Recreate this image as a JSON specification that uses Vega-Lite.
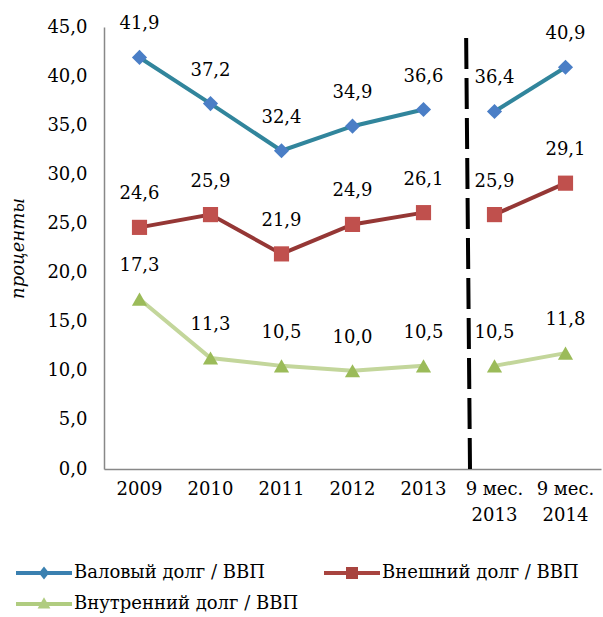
{
  "$schema": "https://vega.github.io/schema/vega-lite/v6.json",
  "width": 497,
  "height": 442,
  "autosize": {"type": "none"},
  "padding": {"left": 104, "top": 27, "right": 2, "bottom": 148},
  "config": {
    "view": {"stroke": null},
    "font": "DejaVu Serif",
    "locale": {"number": {"decimal": ",", "thousands": " ", "grouping": [3], "currency": ["", ""]}},
    "axis": {"grid": false, "ticks": false, "domainColor": "#888888", "domainWidth": 1.5, "labelFont": "DejaVu Serif", "labelFontSize": 18, "labelColor": "#000000", "titleFont": "DejaVu Serif", "titleFontSize": 18, "titleColor": "#000000", "titleFontWeight": "normal"}
  },
  "data": {
    "values": [
      {"period": "2009", "series": "Валовый долг / ВВП", "seg": "a", "value": 41.9},
      {"period": "2010", "series": "Валовый долг / ВВП", "seg": "a", "value": 37.2},
      {"period": "2011", "series": "Валовый долг / ВВП", "seg": "a", "value": 32.4},
      {"period": "2012", "series": "Валовый долг / ВВП", "seg": "a", "value": 34.9},
      {"period": "2013", "series": "Валовый долг / ВВП", "seg": "a", "value": 36.6},
      {"period": "9 мес. 2013", "series": "Валовый долг / ВВП", "seg": "b", "value": 36.4},
      {"period": "9 мес. 2014", "series": "Валовый долг / ВВП", "seg": "b", "value": 40.9},
      {"period": "2009", "series": "Внешний долг / ВВП", "seg": "a", "value": 24.6},
      {"period": "2010", "series": "Внешний долг / ВВП", "seg": "a", "value": 25.9},
      {"period": "2011", "series": "Внешний долг / ВВП", "seg": "a", "value": 21.9},
      {"period": "2012", "series": "Внешний долг / ВВП", "seg": "a", "value": 24.9},
      {"period": "2013", "series": "Внешний долг / ВВП", "seg": "a", "value": 26.1},
      {"period": "9 мес. 2013", "series": "Внешний долг / ВВП", "seg": "b", "value": 25.9},
      {"period": "9 мес. 2014", "series": "Внешний долг / ВВП", "seg": "b", "value": 29.1},
      {"period": "2009", "series": "Внутренний долг / ВВП", "seg": "a", "value": 17.3},
      {"period": "2010", "series": "Внутренний долг / ВВП", "seg": "a", "value": 11.3},
      {"period": "2011", "series": "Внутренний долг / ВВП", "seg": "a", "value": 10.5},
      {"period": "2012", "series": "Внутренний долг / ВВП", "seg": "a", "value": 10.0},
      {"period": "2013", "series": "Внутренний долг / ВВП", "seg": "a", "value": 10.5},
      {"period": "9 мес. 2013", "series": "Внутренний долг / ВВП", "seg": "b", "value": 10.5},
      {"period": "9 мес. 2014", "series": "Внутренний долг / ВВП", "seg": "b", "value": 11.8}
    ]
  },
  "encoding": {
    "x": {
      "field": "period", "type": "ordinal", "sort": null,
      "scale": {"type": "band", "paddingInner": 0, "paddingOuter": 0},
      "axis": {"title": null, "labelAngle": 0, "labelPadding": 11, "labelLineHeight": 26,
        "labelExpr": "indexof(datum.label, 'мес') > 0 ? [slice(datum.label, 0, 6), slice(datum.label, 7)] : datum.label"}
    },
    "y": {
      "field": "value", "type": "quantitative",
      "scale": {"domain": [0, 45], "nice": false},
      "axis": {"values": [0, 5, 10, 15, 20, 25, 30, 35, 40, 45], "format": ".1f", "labelPadding": 17, "title": "проценты", "titleFontStyle": "italic", "titlePadding": 19}
    }
  },
  "layer": [
    {
      "mark": {"type": "line", "strokeWidth": 4},
      "encoding": {
        "color": {"field": "series", "type": "nominal", "legend": null,
          "scale": {"domain": ["Валовый долг / ВВП", "Внешний долг / ВВП", "Внутренний долг / ВВП"], "range": ["#31859C", "#953735", "#C3D69B"]}},
        "detail": {"field": "seg"}
      }
    },
    {
      "transform": [{"filter": "datum.period == '9 мес. 2013' && datum.series == 'Валовый долг / ВВП'"}],
      "mark": {"type": "rule", "color": "#000000", "strokeWidth": 4, "strokeDash": [31, 9]},
      "encoding": {
        "x": {"field": "period", "type": "ordinal", "sort": null, "bandPosition": 0.155},
        "x2": {"field": "period", "bandPosition": 0.1},
        "y": {"datum": 0},
        "y2": {"datum": 44.5}
      }
    },
    {
      "mark": {"type": "point", "filled": true, "opacity": 1, "size": 230},
      "encoding": {
        "color": {"field": "series", "type": "nominal", "legend": null,
          "scale": {"domain": ["Валовый долг / ВВП", "Внешний долг / ВВП", "Внутренний долг / ВВП"], "range": ["#4A7EC6", "#C0504D", "#9BBB59"]}},
        "shape": {"field": "series", "type": "nominal", "legend": null,
          "scale": {"domain": ["Валовый долг / ВВП", "Внешний долг / ВВП", "Внутренний долг / ВВП"], "range": ["diamond", "square", "triangle-up"]}}
      }
    },
    {
      "mark": {"type": "text", "dy": -33, "fontSize": 18, "font": "DejaVu Serif", "color": "#000000"},
      "encoding": {
        "text": {"field": "value", "type": "quantitative", "format": ".1f"}
      }
    },
    {
      "transform": [{"filter": "false"}],
      "mark": {"type": "point", "filled": true, "opacity": 1, "size": 64},
      "encoding": {
        "color": {"field": "series", "type": "nominal",
          "scale": {"domain": ["Валовый долг / ВВП", "Внутренний долг / ВВП", "Внешний долг / ВВП"], "range": ["#3A80B0", "#B0CC80", "#A8443F"]},
          "legend": {"title": null, "orient": "none", "legendX": -94, "legendY": 537, "columns": 2, "columnPadding": 19, "rowPadding": 13,
            "symbolSize": 64, "symbolOffset": 25, "labelOffset": 21, "labelFontSize": 18, "labelFont": "DejaVu Serif", "labelColor": "#000000", "labelLimit": 400}},
        "shape": {"field": "series", "type": "nominal",
          "scale": {"domain": ["Валовый долг / ВВП", "Внутренний долг / ВВП", "Внешний долг / ВВП"],
            "range": ["M-7,-0.5H7V0.5H-7Z M0,-1.6L1.3,0L0,1.6L-1.3,0Z", "M-7,-0.5H7V0.5H-7Z M0,-1.7L1.6,1.1H-1.6Z", "M-7,-0.5H7V0.5H-7Z M-1.5,-1.5H1.5V1.5H-1.5Z"]},
          "legend": {"title": null, "orient": "none", "legendX": -94, "legendY": 537, "columns": 2, "columnPadding": 19, "rowPadding": 13,
            "symbolSize": 64, "symbolOffset": 25, "labelOffset": 21, "labelFontSize": 18, "labelFont": "DejaVu Serif", "labelColor": "#000000", "labelLimit": 400}}
      }
    }
  ],
  "resolve": {"scale": {"color": "independent", "shape": "independent"}}
}
